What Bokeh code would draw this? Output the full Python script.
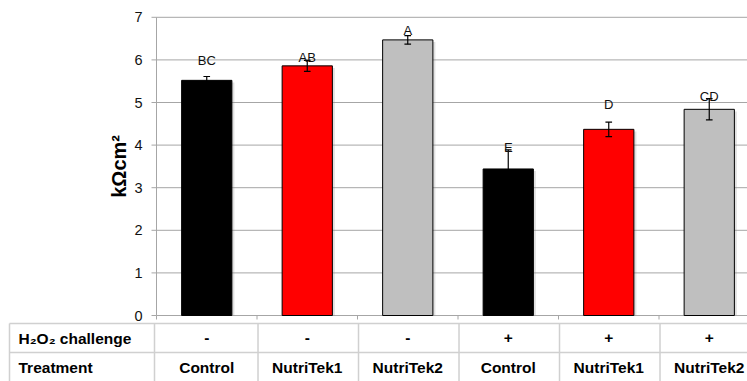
import math

from bokeh.plotting import figure
from bokeh.models import Range1d, ColumnDataSource
from bokeh.core.properties import value
from bokeh.embed import file_html
from bokeh.resources import INLINE

# Transepithelial resistance per group
treatments = ["Control", "NutriTek1", "NutriTek2", "Control", "NutriTek1", "NutriTek2"]
challenge = ["-", "-", "-", "+", "+", "+"]
teer = [5.52, 5.86, 6.47, 3.44, 4.37, 4.84]
sem = [0.09, 0.13, 0.10, 0.45, 0.17, 0.25]
letters = ["BC", "AB", "A", "E", "D", "CD"]
y_ticks = [0, 1, 2, 3, 4, 5, 6, 7]
y_title = "k\u03a9cm\u00b2"
row_titles = ["H\u2082O\u2082 challenge", "Treatment"]

treatment_colors = {"Control": "#000000", "NutriTek1": "#FF0000", "NutriTek2": "#BFBFBF"}

FONT = value("Liberation Sans")
GRID = "#a6a6a6"
TABLE_LINE = "#d0d0d0"

# layout in pixels
W, H = 747, 381
AXIS_X, BASE_Y = 156, 315   # pixel position of the value axis and of the zero line
CAT_PX = 100.5              # pixels per category slot
UNIT_PX = 42.6              # pixels per kOhm cm2


def px_x(px):
    return (px - AXIS_X) / CAT_PX


def px_y(py):
    return (BASE_Y - py) / UNIT_PX


n = len(teer)
xs = [i + 0.5 for i in range(n)]
colors = [treatment_colors[t] for t in treatments]
y_max = max(y_ticks)

# the frame fills the whole canvas: value axis and condition table share one coordinate system
p = figure(width=W, height=H, x_range=Range1d(px_x(0), px_x(W)),
           y_range=Range1d(px_y(H), px_y(0)), output_backend="svg",
           toolbar_location=None, min_border=0)
p.outline_line_color = None
p.axis.visible = False
p.grid.visible = False

# horizontal gridlines, from the value axis to the right edge
p.segment(x0=[0] * len(y_ticks), y0=y_ticks, x1=[px_x(W)] * len(y_ticks), y1=y_ticks,
          line_color=GRID, line_width=1)

# value axis: line, outward ticks, tick labels, title
p.segment(x0=[0], y0=[0], x1=[0], y1=[y_max], line_color=GRID, line_width=1)
p.segment(x0=[px_x(AXIS_X - 5)] * len(y_ticks), y0=y_ticks, x1=[0] * len(y_ticks),
          y1=y_ticks, line_color=GRID, line_width=1)
p.text(x=[px_x(AXIS_X - 14)] * len(y_ticks), y=y_ticks, text=[str(v) for v in y_ticks],
       text_font=FONT, text_font_size="14.5px", text_align="right",
       text_baseline="middle", text_color="#111111")
p.text(x=[px_x(118)], y=[y_max / 2], text=[y_title], angle=math.pi / 2,
       text_font=FONT, text_font_size="20px", text_font_style="bold",
       text_align="center", text_baseline="middle", text_color="#000000")

# category tick marks below the baseline
bounds_x = list(range(n + 1))
p.segment(x0=bounds_x, y0=[0] * len(bounds_x), x1=bounds_x,
          y1=[px_y(BASE_Y + 4)] * len(bounds_x), line_color=GRID, line_width=1)

src = ColumnDataSource(dict(x=xs, top=teer, color=colors,
                            lo=[t - e for t, e in zip(teer, sem)],
                            hi=[t + e for t, e in zip(teer, sem)]))

# soft drop shadow, then bars
p.vbar(x=[x + 0.025 for x in xs], top=[t - 0.05 for t in teer], width=0.5,
       fill_color="#888888", fill_alpha=0.25, line_color=None)
p.vbar(x="x", top="top", width=0.5, fill_color="color", line_color="#000000",
       line_width=1, source=src)

# error bars
cap = 0.033
p.segment(x0="x", y0="lo", x1="x", y1="hi", line_color="#000000", line_width=1.2, source=src)
p.segment(x0=[x - cap for x in xs], y0=src.data["hi"], x1=[x + cap for x in xs],
          y1=src.data["hi"], line_color="#000000", line_width=1.2)
p.segment(x0=[x - cap for x in xs], y0=src.data["lo"], x1=[x + cap for x in xs],
          y1=src.data["lo"], line_color="#000000", line_width=1.2)

# significance letters above the error bars
label_gap = [0.38, 0.07, 0.12, 0.06, 0.41, 0.06]
p.text(x=xs, y=[h + g for h, g in zip(src.data["hi"], label_gap)], text=letters,
       text_font=FONT, text_font_size="13px", text_align="center",
       text_baseline="alphabetic", text_color="#111111")

# condition table under the chart
x_left, x_right = px_x(9), px_x(W)
y_top, y_mid, y_bot = px_y(323), px_y(352), px_y(H)
vx = [x_left, px_x(154)] + [i + 0.01 for i in range(1, n)]
p.segment(x0=[x_left, x_left], y0=[y_top, y_mid], x1=[x_right, x_right], y1=[y_top, y_mid],
          line_color=TABLE_LINE, line_width=1.5)
p.segment(x0=vx, y0=[y_top] * len(vx), x1=vx, y1=[y_bot] * len(vx),
          line_color=TABLE_LINE, line_width=1.5)

row_y = [px_y(337.5), px_y(366.5)]
cell_style = dict(text_font=FONT, text_font_size="15.5px", text_font_style="bold",
                  text_baseline="middle", text_color="#000000")
p.text(x=[px_x(18)] * 2, y=row_y, text=row_titles, text_align="left", **cell_style)
p.text(x=xs, y=[row_y[0]] * n, text=challenge, text_align="center", **cell_style)
p.text(x=xs, y=[row_y[1]] * n, text=treatments, text_align="center", **cell_style)

open("out.html", "w").write(file_html(p, INLINE))
